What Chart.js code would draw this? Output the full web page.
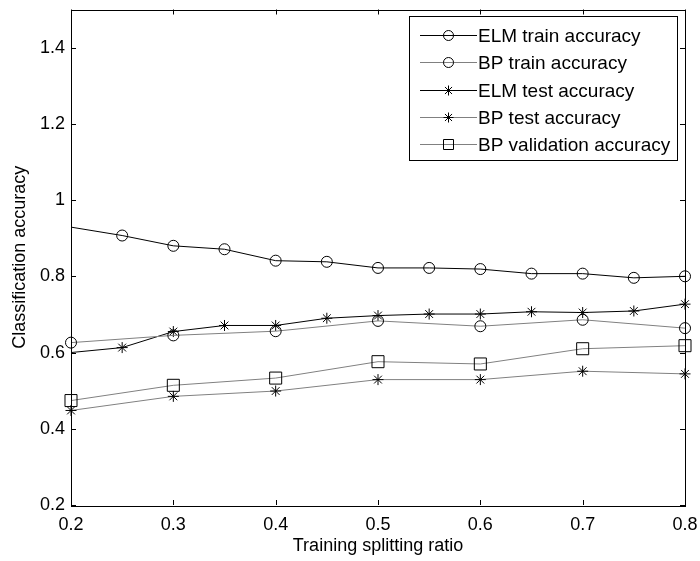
<!DOCTYPE html>
<html>
<head>
<meta charset="utf-8">
<script src="https://cdn.jsdelivr.net/npm/chart.js@4/dist/chart.umd.min.js"></script>
<style>
  html, body { margin: 0; padding: 0; background: #fff; }
  #wrap { width: 700px; height: 561px; }
</style>
</head>
<body>
<div id="wrap"><canvas id="chart"></canvas></div>
<script>
// ELM was evaluated every 0.05, BP every 0.1
const elmRatios = [0.2, 0.25, 0.3, 0.35, 0.4, 0.45, 0.5, 0.55, 0.6, 0.65, 0.7, 0.75, 0.8];
const bpRatios = [0.2, 0.3, 0.4, 0.5, 0.6, 0.7, 0.8];

const elmTrain = [0.929, 0.907, 0.880, 0.871, 0.841, 0.838, 0.822, 0.822, 0.819, 0.807, 0.807, 0.796, 0.800];
const elmTest = [0.600, 0.613, 0.655, 0.671, 0.671, 0.690, 0.697, 0.701, 0.701, 0.707, 0.705, 0.709, 0.727];
const bpTrain = [0.626, 0.645, 0.656, 0.683, 0.669, 0.686, 0.664];
const bpTest = [0.448, 0.485, 0.499, 0.529, 0.529, 0.551, 0.544];
const bpValidation = [0.474, 0.514, 0.533, 0.576, 0.570, 0.610, 0.618];

const xTicks = [0.2, 0.3, 0.4, 0.5, 0.6, 0.7, 0.8];
const yTicks = [0.2, 0.4, 0.6, 0.8, 1.0, 1.2, 1.4];

const GRAY = '#808080';
const FONT = "'Liberation Sans', Arial, sans-serif";

const pts = (xs, ys) => xs.map((x, i) => ({ x: x, y: ys[i] }));
const hideFirst = r => ctx => ctx.dataIndex === 0 ? 0 : r;

const series = [
    { label: 'ELM train accuracy', data: pts(elmRatios, elmTrain), color: '#000', style: 'circle', r: hideFirst(5.5) },
    { label: 'BP train accuracy', data: pts(bpRatios, bpTrain), color: GRAY, style: 'circle', r: 5.5 },
    { label: 'ELM test accuracy', data: pts(elmRatios, elmTest), color: '#000', style: 'star', r: hideFirst(5.5) },
    { label: 'BP test accuracy', data: pts(bpRatios, bpTest), color: GRAY, style: 'star', r: 5.5 },
    { label: 'BP validation accuracy', data: pts(bpRatios, bpValidation), color: GRAY, style: 'rect', r: 8.5 }
];

// matlab style box with inward ticks
const boxPlugin = {
    id: 'box',
    afterDraw(chart) {
        const { ctx, chartArea: a, scales } = chart;
        ctx.save();
        ctx.strokeStyle = '#000';
        ctx.lineWidth = 1;
        ctx.strokeRect(Math.round(a.left) + 0.5, Math.round(a.top) + 0.5,
            Math.round(a.right - a.left), Math.round(a.bottom - a.top));
        ctx.beginPath();
        xTicks.forEach(v => {
            const px = Math.round(scales.x.getPixelForValue(v)) + 0.5;
            ctx.moveTo(px, a.bottom); ctx.lineTo(px, a.bottom - 5);
            ctx.moveTo(px, a.top); ctx.lineTo(px, a.top + 5);
        });
        yTicks.forEach(v => {
            const py = Math.round(scales.y.getPixelForValue(v)) + 0.5;
            ctx.moveTo(a.left, py); ctx.lineTo(a.left + 5, py);
            ctx.moveTo(a.right, py); ctx.lineTo(a.right - 5, py);
        });
        ctx.stroke();

        // legend
        const lx = 409, ly = 16, lw = 268, lh = 144;
        ctx.fillStyle = '#fff';
        ctx.fillRect(lx, ly, lw, lh);
        ctx.strokeRect(lx + 0.5, ly + 0.5, lw, lh);
        ctx.font = '19px ' + FONT;
        ctx.textBaseline = 'middle';
        ctx.textAlign = 'left';
        series.forEach((s, i) => {
            const y = Math.round(35 + i * 27.3) + 0.5;
            ctx.strokeStyle = s.color;
            ctx.beginPath();
            ctx.moveTo(420, y); ctx.lineTo(477, y);
            ctx.stroke();
            ctx.strokeStyle = '#000';
            ctx.beginPath();
            const cx = 448.5;
            if (s.style === 'circle') {
                ctx.arc(cx, y, 5, 0, Math.PI * 2);
            } else if (s.style === 'rect') {
                ctx.rect(cx - 5, y - 5, 10, 10);
            } else {
                for (let k = 0; k < 4; k++) {
                    const t = k * Math.PI / 4;
                    ctx.moveTo(cx - 5 * Math.cos(t), y - 5 * Math.sin(t));
                    ctx.lineTo(cx + 5 * Math.cos(t), y + 5 * Math.sin(t));
                }
            }
            ctx.stroke();
            ctx.fillStyle = '#000';
            ctx.fillText(s.label, 478, y + 1);
        });
        ctx.restore();
    }
};

Chart.defaults.font.family = FONT;
Chart.defaults.color = '#000';

new Chart(document.getElementById('chart'), {
    type: 'line',
    data: {
        datasets: series.map(s => ({
            label: s.label,
            data: s.data,
            borderColor: s.color,
            borderWidth: 1,
            pointStyle: s.style,
            pointRadius: s.r,
            pointBorderColor: '#000',
            pointBackgroundColor: 'rgba(0,0,0,0)',
            pointBorderWidth: 1,
            tension: 0,
            fill: false,
            clip: false
        }))
    },
    options: {
        responsive: true,
        maintainAspectRatio: false,
        animation: false,
        events: [],
        layout: { padding: { top: 6, right: 15, left: 0, bottom: 0 } },
        scales: {
            x: {
                type: 'linear',
                min: 0.2,
                max: 0.8,
                afterBuildTicks: scale => { scale.ticks = xTicks.map(v => ({ value: v })); },
                afterFit: scale => {
                    scale.height = 56;
                    scale.paddingLeft = 0;
                    scale.paddingRight = 0;
                },
                grid: { display: false, drawTicks: false },
                border: { display: false },
                ticks: {
                    font: { size: 18 },
                    padding: 9,
                    maxRotation: 0,
                    callback: v => String(+v.toFixed(1))
                },
                title: {
                    display: true,
                    text: 'Training splitting ratio',
                    font: { size: 18 },
                    padding: { top: 0, bottom: 4 }
                }
            },
            y: {
                type: 'linear',
                min: 0.2,
                max: 1.5,
                afterBuildTicks: scale => { scale.ticks = yTicks.map(v => ({ value: v })); },
                afterFit: scale => {
                    scale.width = 71;
                    scale.paddingTop = 0;
                    scale.paddingBottom = 0;
                },
                grid: { display: false, drawTicks: false },
                border: { display: false },
                ticks: {
                    font: { size: 18 },
                    padding: 6,
                    callback: v => String(+v.toFixed(1))
                },
                title: {
                    display: true,
                    text: 'Classification accuracy',
                    font: { size: 18 },
                    padding: { top: 9, bottom: 0 }
                }
            }
        },
        plugins: {
            legend: { display: false },
            tooltip: { enabled: false }
        }
    },
    plugins: [boxPlugin]
});
</script>
</body>
</html>
